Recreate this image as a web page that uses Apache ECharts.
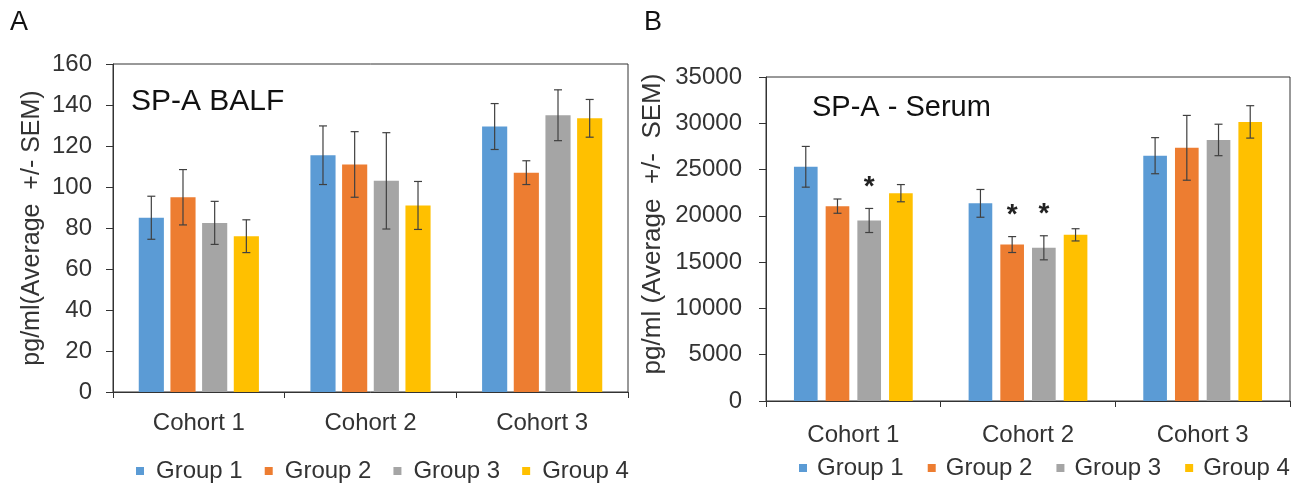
<!DOCTYPE html>
<html>
<head>
<meta charset="utf-8">
<script src="https://cdn.jsdelivr.net/npm/echarts@6/dist/echarts.min.js"></script>
<style>
html,body{margin:0;padding:0;background:#fff;}
#chart{width:1309px;height:485px;}
</style>
</head>
<body>
<div id="chart"></div>
<script>
// ---- data ----
var categories = ['Cohort 1', 'Cohort 2', 'Cohort 3'];
var groups = ['Group 1', 'Group 2', 'Group 3', 'Group 4'];
var colors = ['#5B9BD5', '#ED7D31', '#A5A5A5', '#FFC000'];

var balfG1 = [85, 115.5, 129.5];
var balfG2 = [95, 111, 107];
var balfG3 = [82.5, 103, 135];
var balfG4 = [76, 91, 133.5];
var balfErrG1 = [10.5, 14.3, 11.2];
var balfErrG2 = [13.5, 16, 5.8];
var balfErrG3 = [10.5, 23.5, 12.4];
var balfErrG4 = [8, 11.7, 9.2];

var serumG1 = [25300, 21350, 26500];
var serumG2 = [21050, 16900, 27350];
var serumG3 = [19500, 16550, 28200];
var serumG4 = [22450, 17950, 30150];
var serumErrG1 = [2200, 1500, 1950];
var serumErrG2 = [770, 860, 3500];
var serumErrG3 = [1300, 1300, 1700];
var serumErrG4 = [930, 660, 1750];

// significance marks in panel B: [cohort index, group index]
var serumSig = [[0, 2], [1, 1], [1, 2]];

var balfTicks = {min: 0, max: 160, interval: 20};
var serumTicks = {min: 0, max: 35000, interval: 5000};

// ---- build ----
var FONT = "'Liberation Sans', Arial, sans-serif";
var TXT = '#333';
var balfMeans = [balfG1, balfG2, balfG3, balfG4];
var balfErrs = [balfErrG1, balfErrG2, balfErrG3, balfErrG4];
var serumMeans = [serumG1, serumG2, serumG3, serumG4];
var serumErrs = [serumErrG1, serumErrG2, serumErrG3, serumErrG4];

var CAT_GAP = [0.30, 0.32];
var BAR_GAP = [0.26, 0.34];

function errData(means, errs, sig) {
  var out = [];
  for (var g = 0; g < means.length; g++) {
    for (var c = 0; c < categories.length; c++) {
      var s = 0;
      if (sig) sig.forEach(function (p) { if (p[0] === c && p[1] === g) s = 1; });
      out.push([c, means[g][c], errs[g][c], g, s]);
    }
  }
  return out;
}

function makeRender(panel) {
  return function (params, api) {
    var c = api.value(0), m = api.value(1), e = api.value(2), g = api.value(3), s = api.value(4);
    var band = api.size([1, 0])[0];
    var inner = band * (1 - CAT_GAP[panel]);
    var bw = inner / (4 + 3 * BAR_GAP[panel]);
    var center = api.coord([c, m]);
    var x = center[0] - inner / 2 + g * bw * (1 + BAR_GAP[panel]) + bw / 2;
    var top = api.coord([c, m + e])[1];
    var bot = api.coord([c, m - e])[1];
    var st = {stroke: '#404040', lineWidth: 1.2};
    var ch = [
      {type: 'line', shape: {x1: x, y1: top, x2: x, y2: bot}, style: st},
      {type: 'line', shape: {x1: x - 4, y1: top, x2: x + 4, y2: top}, style: st},
      {type: 'line', shape: {x1: x - 4, y1: bot, x2: x + 4, y2: bot}, style: st}
    ];
    if (s) {
      ch.push({type: 'text', style: {text: '*', x: x, y: top - 7, align: 'center', verticalAlign: 'bottom',
        font: 'bold 28px ' + FONT, fill: '#222'}});
    }
    return {type: 'group', children: ch};
  };
}

var series = [];
groups.forEach(function (name, g) {
  series.push({name: name, type: 'bar', xAxisIndex: 0, yAxisIndex: 0, data: balfMeans[g],
    itemStyle: {color: colors[g]}, barCategoryGap: (CAT_GAP[0] * 100) + '%', barGap: (BAR_GAP[0] * 100) + '%', silent: true});
});
groups.forEach(function (name, g) {
  series.push({name: name, type: 'bar', xAxisIndex: 1, yAxisIndex: 1, data: serumMeans[g],
    itemStyle: {color: colors[g]}, barCategoryGap: (CAT_GAP[1] * 100) + '%', barGap: (BAR_GAP[1] * 100) + '%', silent: true});
});
series.push({type: 'custom', xAxisIndex: 0, yAxisIndex: 0, renderItem: makeRender(0),
  data: errData(balfMeans, balfErrs, null), z: 10, silent: true});
series.push({type: 'custom', xAxisIndex: 1, yAxisIndex: 1, renderItem: makeRender(1),
  data: errData(serumMeans, serumErrs, serumSig), z: 10, silent: true});

function xAxis(idx) {
  return {type: 'category', gridIndex: idx, data: categories,
    axisLine: {lineStyle: {color: '#333', width: 1}},
    axisTick: {show: true, length: 6, lineStyle: {color: '#333'}},
    axisLabel: {color: TXT, fontSize: 24, fontFamily: FONT, margin: idx === 0 ? 19 : 22}};
}
function yAxis(idx, t, name, gap, fs, pad) {
  return {type: 'value', gridIndex: idx, min: t.min, max: t.max, interval: t.interval,
    name: name, nameLocation: 'middle', nameGap: gap,
    nameTextStyle: {color: TXT, fontSize: fs, fontFamily: FONT, padding: pad},
    axisLine: {show: true, lineStyle: {color: '#333', width: 1}},
    axisTick: {show: true, length: 7, lineStyle: {color: '#333'}},
    splitLine: {show: false},
    axisLabel: {color: TXT, fontSize: 24, fontFamily: FONT, margin: idx === 0 ? 21 : 24,
      formatter: function (v) { return String(v); }}};
}

var legendCommon = {orient: 'horizontal', icon: 'rect', itemWidth: 8, itemHeight: 8,
  textStyle: {fontSize: 24, fontFamily: FONT, color: TXT, lineHeight: 24}, selectedMode: false, data: groups};

var option = {
  backgroundColor: '#fff',
  animation: false,
  color: colors,
  title: [
    {text: 'A', left: 10, top: 9, padding: 0, textStyle: {fontSize: 27, fontWeight: 'normal', fontFamily: FONT, color: '#111'}},
    {text: 'B', left: 644, top: 9, padding: 0, textStyle: {fontSize: 27, fontWeight: 'normal', fontFamily: FONT, color: '#111'}},
    {text: 'SP-A BALF', left: 131, top: 87, padding: 0, textStyle: {fontSize: 30, fontWeight: 'normal', fontFamily: FONT, color: '#111'}},
    {text: 'SP-A - Serum', left: 812, top: 93, padding: 0, textStyle: {fontSize: 29, fontWeight: 'normal', fontFamily: FONT, color: '#111'}}
  ],
  legend: [
    Object.assign({}, legendCommon, {left: 131, top: 454, itemGap: 22,
      textStyle: Object.assign({}, legendCommon.textStyle, {padding: [0, 0, 0, 7]})}),
    Object.assign({}, legendCommon, {left: 794, top: 451, itemGap: 24,
      textStyle: Object.assign({}, legendCommon.textStyle, {padding: [0, 0, 0, 5]})})
  ],
  grid: [
    {left: 113, top: 64, width: 515, height: 328, show: true, borderColor: '#333', borderWidth: 1, backgroundColor: 'transparent'},
    {left: 766, top: 77, width: 524, height: 324, show: true, borderColor: '#333', borderWidth: 1, backgroundColor: 'transparent'}
  ],
  xAxis: [xAxis(0), xAxis(1)],
  yAxis: [
    yAxis(0, balfTicks, 'pg/ml(Average  +/- SEM)', 68, 25, [0, 0, 0, 0]),
    yAxis(1, serumTicks, 'pg/ml (Average  +/-  SEM)', 100, 26, [0, 0, 0, 30])
  ],
  series: series
};

var chart = echarts.init(document.getElementById('chart'), null, {renderer: 'canvas'});
chart.setOption(option);
</script>
</body>
</html>
